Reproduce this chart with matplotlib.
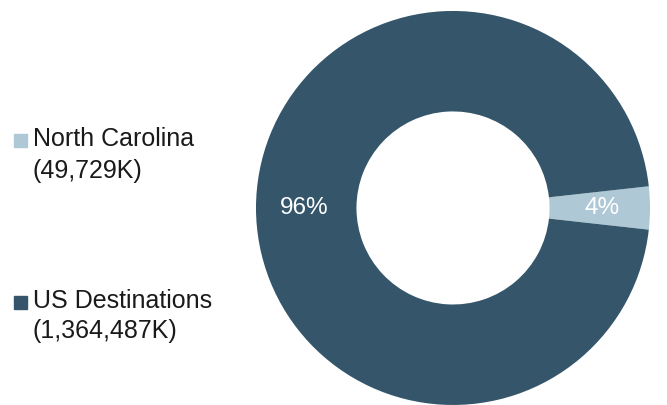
import matplotlib
matplotlib.use("Agg")
import matplotlib.pyplot as plt
from matplotlib.patches import Rectangle

plt.rcParams['font.family'] = ['Liberation Sans', 'DejaVu Sans']

categories = ["North Carolina", "US Destinations"]
values = [49729, 1364487]  # thousands
colors = ["#AEC8D6", "#34556A"]

fig = plt.figure(figsize=(6.67, 4.05), dpi=100)

ax = fig.add_axes([0.3838, 0.0, 0.5907, 0.973])
total = sum(values)
start = -values[0] / total * 180.0
wedges, texts, autotexts = ax.pie(
    values, colors=colors, startangle=start, counterclock=True,
    autopct=lambda p: f"{p:.0f}%", pctdistance=0.755,
    wedgeprops=dict(width=0.51, edgecolor="none"),
    textprops=dict(color="white", fontsize=17.5),
)
ax.set_xlim(-1, 1)
ax.set_ylim(-1, 1)
ax.set_aspect("equal")

# Legend drawn manually at the left
legend_rows = [(139, 171), (301, 331)]
for (y1, y2), name, val, col in zip(legend_rows, categories, values, colors):
    fig.patches.append(Rectangle((14 / 667, 1 - (y1 + 7.5) / 405), 13 / 667, 13 / 405,
                                 transform=fig.transFigure, color=col))
    fig.text(33 / 667, 1 - y1 / 405, name, fontsize=18, color="#1a1a1a", va="center", ha="left")
    fig.text(33 / 667, 1 - y2 / 405, f"({val:,}K)", fontsize=18, color="#1a1a1a", va="center", ha="left")

fig.savefig("out.png", dpi=100)
